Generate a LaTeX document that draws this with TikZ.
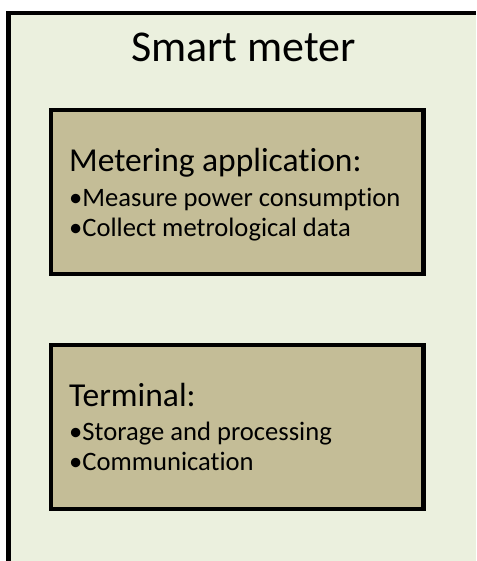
\documentclass[tikz,border=0pt]{standalone}
\usepackage{fontspec}
\setmainfont{Carlito}[Ligatures=NoCommon]
\definecolor{meterbg}{RGB}{235,240,222}
\definecolor{boxfill}{RGB}{196,189,151}
\tikzset{
  appbox/.style={draw=black,fill=boxfill,line width=4.6pt,rectangle,inner sep=0pt},
  head/.style={anchor=base west,inner sep=0pt,font=\fontsize{33.5}{40}\selectfont},
  item/.style={anchor=base west,inner sep=0pt,font=\fontsize{26.6}{32}\selectfont}
}

\begin{document}
\begin{tikzpicture}[x=1pt,y=-1pt]
\useasboundingbox (0,0) rectangle (476,561);
\fill[meterbg] (8.5,13) rectangle (476,561);
\draw[line width=4.6pt] (8.5,561)--(8.5,13)--(476,13);
\node[anchor=base,inner sep=0pt,font=\fontsize{44}{52}\selectfont] (title) at (243.5,61.7) {Smart meter};
\node[appbox,minimum width=372.7pt,minimum height=164pt] (metering) at (237.15,192) {};
\node[appbox,minimum width=372.7pt,minimum height=164pt] (terminal) at (237.15,427) {};
\node[head] (mhead) at (69,172) {Metering application:};
\node[item] (m1) at (69,206.7) {•Measure power consumption};
\node[item] (m2) at (69,236.7) {•Collect metrological data};
\node[head] (thead) at (69,406) {Terminal:};
\node[item] (t1) at (69,440) {•Storage and processing};
\node[item] (t2) at (69,470.7) {•Communication};
\end{tikzpicture}
\end{document}
